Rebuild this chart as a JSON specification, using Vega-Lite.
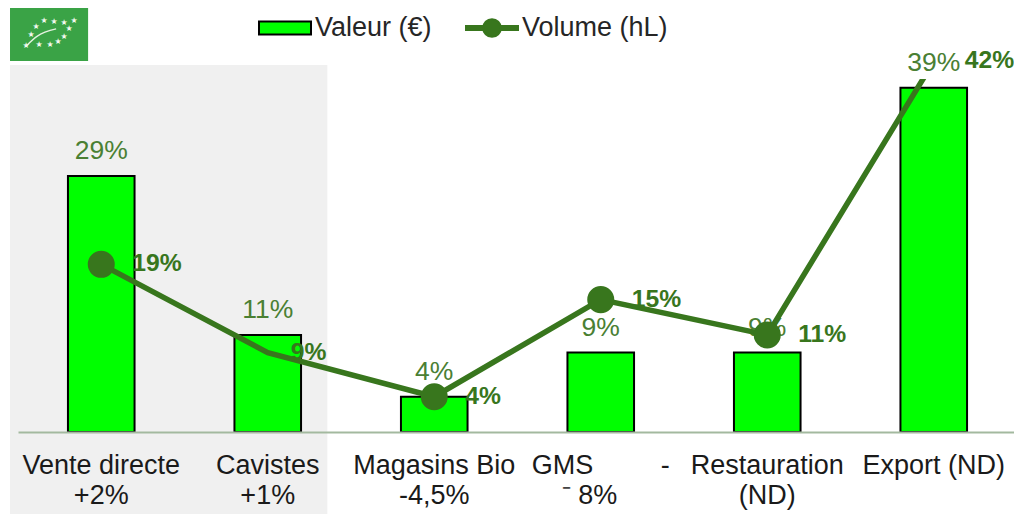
{
"$schema":"https://vega.github.io/schema/vega-lite/v6.json",
"width":996,"height":353,
"autosize":{"type":"none"},
"padding":{"left":18,"top":79,"right":0,"bottom":82},
"background":"#ffffff",
"config":{"view":{"stroke":null},"font":"Liberation Sans","axis":{"labelFont":"Liberation Sans"}},
"datasets":{
"parts":[
{"canal":"Vente directe|+2%","serie":"Valeur (€)","part":0.29},
{"canal":"Cavistes|+1%","serie":"Valeur (€)","part":0.11},
{"canal":"Magasins Bio|-4,5%","serie":"Valeur (€)","part":0.04},
{"canal":"GMS\u00a0\u00a0\u00a0\u00a0\u00a0\u00a0\u00a0\u00a0\u00a0-|⁻ 8%\u00a0\u00a0\u00a0\u200b","serie":"Valeur (€)","part":0.09},
{"canal":"Restauration|(ND)","serie":"Valeur (€)","part":0.09},
{"canal":"Export (ND)","serie":"Valeur (€)","part":0.39},
{"canal":"Vente directe|+2%","serie":"Volume (hL)","part":0.19},
{"canal":"Cavistes|+1%","serie":"Volume (hL)","part":0.09},
{"canal":"Magasins Bio|-4,5%","serie":"Volume (hL)","part":0.04},
{"canal":"GMS\u00a0\u00a0\u00a0\u00a0\u00a0\u00a0\u00a0\u00a0\u00a0-|⁻ 8%\u00a0\u00a0\u00a0\u200b","serie":"Volume (hL)","part":0.15},
{"canal":"Restauration|(ND)","serie":"Volume (hL)","part":0.11},
{"canal":"Export (ND)","serie":"Volume (hL)","part":0.42}
],
"zones":[{"zone":"circuits","debut":-0.048,"fin":1.858,"bas":-0.0929,"haut":0.4159}],
"logo":[{"zone":"logo","debut":-0.048,"fin":0.421,"bas":0.4204,"haut":0.4805}],
"etoiles":[
{"a":0.337,"b":0.4657},{"a":0.277,"b":0.4633},{"a":0.216,"b":0.4646},{"a":0.156,"b":0.4657},
{"a":0.108,"b":0.4589},{"a":0.078,"b":0.4499},{"a":0.048,"b":0.4374},{"a":0.126,"b":0.4385},
{"a":0.192,"b":0.4385},{"a":0.240,"b":0.4419},{"a":0.277,"b":0.4476},{"a":0.307,"b":0.4567}
],
"nervure":[{"a":0.048,"b":0.4372},{"a":0.114,"b":0.4483},{"a":0.229,"b":0.4567}]
},
"layer":[
{"data":{"name":"zones"},"mark":{"type":"rect","fill":"#f0f0f0"},
 "encoding":{
 "x":{"field":"debut","type":"quantitative","scale":{"domain":[0,6],"range":[0,999],"nice":false,"zero":false},"axis":null},
 "x2":{"field":"fin"},
 "y":{"field":"bas","type":"quantitative","scale":{"domain":[0,0.4],"nice":false},"axis":{"labels":false,"ticks":false,"grid":false,"title":null,"domainColor":"#a3b99f","domainWidth":2}},"y2":{"field":"haut"}}},
{"data":{"name":"logo"},"mark":{"type":"rect","fill":"#3aa346"},
 "encoding":{
 "x":{"field":"debut","type":"quantitative","scale":{"domain":[0,6],"range":[0,999],"nice":false,"zero":false},"axis":null},
 "x2":{"field":"fin"},
 "y":{"field":"bas","type":"quantitative"},"y2":{"field":"haut"}}},
{"data":{"name":"nervure"},"mark":{"type":"line","color":"#e4f2e0","strokeWidth":1.3,"interpolate":"monotone"},
 "encoding":{
 "x":{"field":"a","type":"quantitative","scale":{"domain":[0,6],"range":[0,999],"nice":false,"zero":false},"axis":null},
 "y":{"field":"b","type":"quantitative"}}},
{"data":{"name":"etoiles"},"mark":{"type":"text","text":"★","fontSize":8,"color":"#f2f8ef","font":"DejaVu Sans","align":"center","baseline":"middle"},
 "encoding":{
 "x":{"field":"a","type":"quantitative","scale":{"domain":[0,6],"range":[0,999],"nice":false,"zero":false},"axis":null},
 "y":{"field":"b","type":"quantitative"}}},
{"data":{"name":"parts"},
 "encoding":{
 "x":{"field":"canal","type":"nominal","sort":null,"scale":{"range":[0,999],"paddingInner":0.6,"paddingOuter":0.3},
  "axis":{"title":null,"ticks":false,"grid":false,"labelAngle":0,"labelFontSize":27,"labelColor":"#1a1a1a","labelLimit":400,"labelOverlap":false,"labelBound":false,"labelFlush":false,"labelPadding":20,"labelLineHeight":30,"labelExpr":"split(datum.label,'|')","domainColor":"#a3b99f","domainWidth":2,"zindex":1}},
 "y":{"field":"part","type":"quantitative"}},
 "layer":[
 {"transform":[{"filter":"datum.serie === 'Valeur (€)'"}],
  "mark":{"type":"bar","strokeWidth":2},
  "encoding":{
  "fill":{"field":"serie","type":"nominal","scale":{"domain":["Valeur (€)","Volume (hL)"],"range":["#00ff00","#38761d"]},"legend":{"title":null}},
  "stroke":{"field":"serie","type":"nominal","scale":{"domain":["Valeur (€)","Volume (hL)"],"range":["#000000","#38761d"]},"legend":{"title":null}}}},
 {"transform":[{"filter":"false"}],
  "mark":{"type":"point","filled":true,"opacity":1},
  "encoding":{
  "fill":{"field":"serie","type":"nominal","legend":{"title":null}},
  "stroke":{"field":"serie","type":"nominal","legend":{"title":null}},
  "shape":{"field":"serie","type":"nominal","scale":{"domain":["Valeur (€)","Volume (hL)"],"range":["M-1,-0.25H1V0.25H-1Z","M-1,-0.08H1V0.08H-1ZM-0.34,0A0.34,0.34 0 1 1 0.34,0A0.34,0.34 0 1 1 -0.34,0Z"]},
   "legend":{"title":null,"orient":"none","legendX":240,"legendY":-78,"direction":"horizontal","columns":2,"symbolSize":2704,"symbolStrokeWidth":2,"symbolOpacity":1,"labelFontSize":27,"labelColor":"#262626","labelOffset":3,"columnPadding":30,"labelLimit":300}}}},
 {"transform":[{"filter":"datum.serie === 'Valeur (€)'"}],
  "mark":{"type":"text","fontSize":26.5,"color":"#4a8033","baseline":"middle","dy":-25},
  "encoding":{"text":{"field":"part","type":"quantitative","format":".0%"}}},
 {"transform":[{"filter":"datum.serie === 'Volume (hL)'"}],
  "mark":{"type":"line","strokeWidth":5.5,"clip":true},
  "encoding":{"stroke":{"field":"serie","type":"nominal","legend":{"title":null}}}},
 {"transform":[{"filter":"datum.serie === 'Volume (hL)' && datum.part !== 0.09 && datum.part !== 0.42"}],
  "mark":{"type":"point","filled":true,"size":730,"opacity":1},
  "encoding":{"color":{"value":"#38761d"}}},
 {"transform":[{"filter":"datum.serie === 'Volume (hL)' && datum.part !== 0.09"}],
  "mark":{"type":"text","fontSize":24.7,"fontWeight":"bold","color":"#38761d","align":"left","baseline":"middle","dx":31},
  "encoding":{"text":{"field":"part","type":"quantitative","format":".0%"}}},
 {"transform":[{"filter":"datum.serie === 'Volume (hL)' && datum.part === 0.09"}],
  "mark":{"type":"text","fontSize":24.7,"fontWeight":"bold","color":"#38761d","align":"left","baseline":"middle","dx":23},
  "encoding":{"text":{"field":"part","type":"quantitative","format":".0%"}}}
 ],
 "resolve":{"scale":{"x":"shared"}}
}
],
"resolve":{"scale":{"x":"independent"}}
}
